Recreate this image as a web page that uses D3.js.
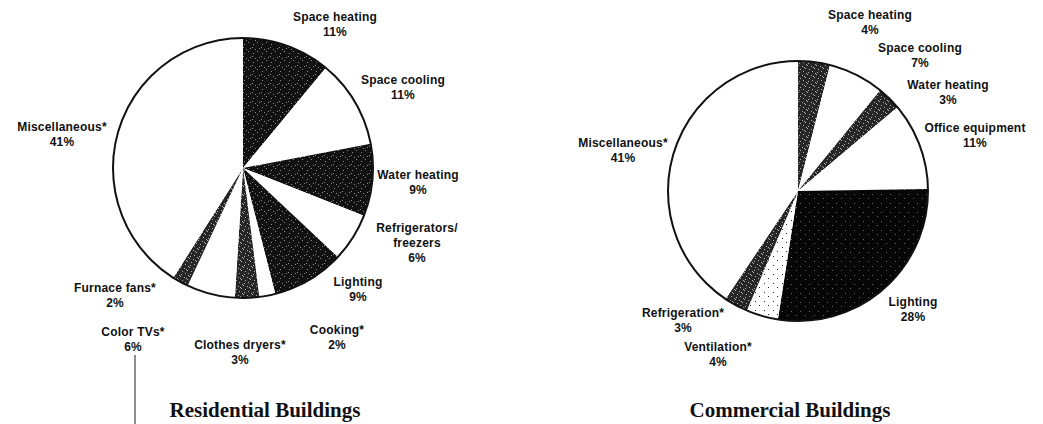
<!DOCTYPE html>
<html>
<head>
<meta charset="utf-8">
<script src="https://cdn.jsdelivr.net/npm/d3@7"></script>
<style>
  body { margin: 0; background: #fff; }
  svg { display: block; }
</style>
</head>
<body>
<div id="chart-wrapper"></div>
<script>
let width = 1043
let height = 424

// Residential buildings
let resCategories = ["Space heating", "Space cooling", "Water heating", "Refrigerators/\nfreezers",
  "Lighting", "Cooking*", "Clothes dryers*", "Color TVs*", "Furnace fans*", "Miscellaneous*"]
let resValues = [11, 11, 9, 6, 9, 2, 3, 6, 2, 41]

// Commercial buildings
let comCategories = ["Space heating", "Space cooling", "Water heating", "Office equipment",
  "Lighting", "Ventilation*", "Refrigeration*", "Miscellaneous*"]
let comValues = [4, 7, 3, 11, 28, 4, 3, 41]

let titles = ["Residential Buildings", "Commercial Buildings"]

// fill style per slice (same order as categories)
let resFills = ["dark", "white", "dark", "white", "dark", "white", "gray", "white", "gray", "white"]
let comFills = ["gray", "white", "gray", "white", "black", "dots", "gray", "white"]

// label anchors, offset from the pie centre (first line)
let resLabelPos = [[92, -151], [160, -88], [175, 7], [174, 60], [115, 114],
  [94, 162], [-3, 177], [-110, 164], [-128, 120], [-181, -41]]
let comLabelPos = [[72, -176], [122, -143], [150, -106], [177, -63], [115, 111],
  [-80, 156], [-115, 122], [-175, -48]]

let svg = d3.select("#chart-wrapper")
  .append("svg")
  .attr("width", width)
  .attr("height", height)

// textures that imitate the scanned shading
let defs = svg.append("defs")
function speckle(id, base, dot, pts) {
  let p = defs.append("pattern")
    .attr("id", id)
    .attr("patternUnits", "userSpaceOnUse")
    .attr("width", 9)
    .attr("height", 9)
  p.append("rect").attr("width", 9).attr("height", 9).attr("fill", base)
  pts.forEach(q => p.append("rect").attr("x", q[0]).attr("y", q[1]).attr("width", 1).attr("height", 1).attr("fill", dot))
}
speckle("dark", "#111111", "#8a8a8a", [[1, 2], [5, 0], [7, 6], [3, 7], [0, 5]])
speckle("black", "#060606", "#6a6a6a", [[2, 3], [7, 7]])
speckle("gray", "#262626", "#b0b0b0", [[0, 0], [4, 1], [7, 3], [2, 4], [5, 6], [1, 7], [8, 8], [6, 2]])
speckle("dots", "#ffffff", "#222222", [[2, 2], [6, 6]])

let fillOf = k => k == "white" ? "#fff" : `url(#${k})`

let r = 130
let pie = d3.pie().sort(null).value(d => d).startAngle(0).endAngle(2 * Math.PI)
let arc = d3.arc().innerRadius(0).outerRadius(r)

function drawPie(cx, cy, categories, values, fills, labelPos) {
  let g = svg.append("g").attr("transform", `translate(${cx},${cy})`)
  g.selectAll("path.slice")
    .data(pie(values))
    .enter()
    .append("path")
    .attr("class", "slice")
    .attr("d", arc)
    .attr("fill", (d, i) => fillOf(fills[i]))
    .attr("stroke", "none")
  g.append("circle")
    .attr("r", r)
    .attr("fill", "none")
    .attr("stroke", "#111")
    .attr("stroke-width", 2)

  let labels = g.selectAll("text.label")
    .data(categories)
    .enter()
    .append("text")
    .attr("class", "label")
    .attr("text-anchor", "middle")
    .attr("font-family", "Liberation Sans, Arial, sans-serif")
    .attr("font-weight", "bold")
    .attr("font-size", 12)
    .attr("letter-spacing", 0.2)
    .attr("fill", "#111")
  labels.each(function (c, i) {
    let lines = c.split("\n").concat([values[i] + "%"])
    let t = d3.select(this)
    lines.forEach((l, j) => {
      t.append("tspan")
        .attr("x", labelPos[i][0])
        .attr("y", labelPos[i][1] + 4 + j * 15)
        .text(l)
    })
  })
  return g
}

drawPie(243, 168, resCategories, resValues, resFills, resLabelPos)
drawPie(798, 191, comCategories, comValues, comFills, comLabelPos)

// leader line under the Color TVs label
svg.append("line")
  .attr("x1", 135).attr("x2", 135)
  .attr("y1", 355).attr("y2", height)
  .attr("stroke", "#222")
  .attr("stroke-width", 1)

svg.selectAll("text.title")
  .data(titles)
  .enter()
  .append("text")
  .attr("class", "title")
  .attr("x", (d, i) => i == 0 ? 265 : 790)
  .attr("y", 417)
  .attr("text-anchor", "middle")
  .attr("font-family", "Liberation Serif, Times New Roman, serif")
  .attr("font-weight", "bold")
  .attr("font-size", 21)
  .attr("fill", "#111")
  .text(d => d)
</script>
</body>
</html>
